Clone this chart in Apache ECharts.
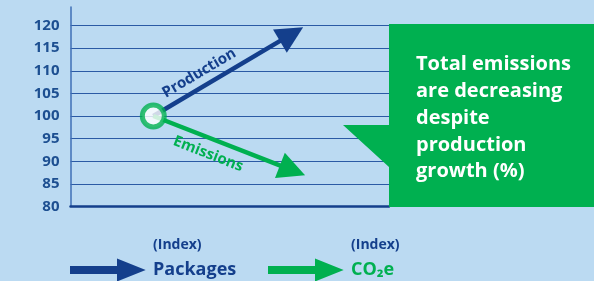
<!DOCTYPE html>
<html>
<head>
<meta charset="utf-8">
<script src="https://cdn.jsdelivr.net/npm/echarts@6/dist/echarts.min.js"></script>
<style>
  html, body { margin: 0; padding: 0; background: #bbdaf2; }
  #chart { width: 594px; height: 281px; }
</style>
</head>
<body>
<div id="chart"></div>
<script>
// --- data ---
const seriesNames = ['Packages', 'CO₂e'];
const lineLabels = ['Production', 'Emissions'];
const startPoint = [26, 100];
// where each arrow shaft ends (the head sits centred on this point)
const endPoints = [[69.4, 118.1], [69.7, 88.0]];
const yMin = 80;
const yMax = 120;
const yStep = 5;
const calloutLines = ['Total emissions', 'are decreasing', 'despite', 'production', 'growth (%)'];

const BLUE = '#143f8c';
const GREEN = '#00b050';
const FONT = '"Open Sans", sans-serif';

const chart = echarts.init(document.getElementById('chart'), null, { renderer: 'canvas' });

function arrowSeries(i, color) {
  return {
    type: 'lines',
    name: seriesNames[i],
    coordinateSystem: 'cartesian2d',
    symbol: ['none', 'triangle'],
    symbolSize: [21, 27],
    lineStyle: { color: color, width: 4.5, opacity: 1 },
    itemStyle: { color: color },
    label: {
      show: true,
      position: i === 0 ? 'insideStartTop' : 'insideStartBottom',
      formatter: lineLabels[i],
      color: color,
      fontFamily: FONT,
      fontWeight: 'bold',
      fontSize: 15,
      distance: i === 0 ? [20, 6] : [28, 8]
    },
    data: [{ coords: [startPoint, endPoints[i]] }],
    z: 3
  };
}

const legendIcon = 'path://M0,7 L47,7 L47,0 L72,10 L47,20 L47,13 L0,13 Z';

function legendFor(i, left, color) {
  return {
    left: left,
    top: 238,
    padding: 0,
    orient: 'horizontal',
    data: [{ name: seriesNames[i], icon: legendIcon, itemStyle: { color: color } }],
    itemWidth: 72,
    itemHeight: 20,
    itemGap: 10,
    selectedMode: false,
    formatter: name => '{a|(Index)}\n{b|' + name + '}\n{a| }',
    textStyle: {
      padding: [0, 0, 0, 5],
      rich: {
        a: { color: BLUE, fontFamily: FONT, fontWeight: 'bold', fontSize: 14, lineHeight: 25 },
        b: { color: color, fontFamily: FONT, fontWeight: 'bold', fontSize: 18, lineHeight: 25 }
      }
    }
  };
}

const option = {
  backgroundColor: '#bbdaf2',
  animation: false,
  grid: { left: 70.5, right: 205, top: 7, bottom: 74.5 },
  xAxis: {
    type: 'value',
    min: 0,
    max: 100,
    axisLine: { show: true, onZero: false, lineStyle: { color: BLUE, width: 2.5 } },
    axisTick: { show: false },
    axisLabel: { show: false },
    splitLine: { show: false }
  },
  yAxis: {
    type: 'value',
    min: yMin,
    max: yMax + 4.1,
    interval: yStep,
    axisLine: { show: true, lineStyle: { color: '#3f6fb6', width: 1.5 } },
    axisTick: { show: false },
    axisLabel: {
      showMaxLabel: false,
      margin: 11,
      color: '#1d4f91',
      fontFamily: FONT,
      fontWeight: 'bold',
      fontSize: 15,
      formatter: v => (v % yStep === 0 ? String(v) : '')
    },
    splitLine: { show: true, showMaxLine: false, lineStyle: { color: '#2b5aa5', width: 1 } }
  },
  legend: [legendFor(0, 70, BLUE), legendFor(1, 268, GREEN)],
  series: [
    arrowSeries(0, BLUE),
    arrowSeries(1, GREEN),
    {
      type: 'scatter',
      name: 'start',
      data: [startPoint],
      symbol: 'circle',
      symbolSize: 22,
      itemStyle: { color: '#ffffff', borderColor: GREEN, borderWidth: 5 },
      z: 5
    }
  ],
  graphic: [
    {
      type: 'polygon',
      z: 10,
      shape: {
        points: [[389, 24], [594, 24], [594, 207], [389, 207], [389, 167], [343, 125], [389, 125]]
      },
      style: { fill: GREEN }
    },
    {
      type: 'text',
      z: 11,
      left: 416,
      top: 51,
      style: {
        text: calloutLines.join('\n'),
        fill: '#ffffff',
        font: 'bold 20px ' + FONT,
        lineHeight: 26.8
      }
    }
  ]
};

chart.setOption(option);
</script>
</body>
</html>
